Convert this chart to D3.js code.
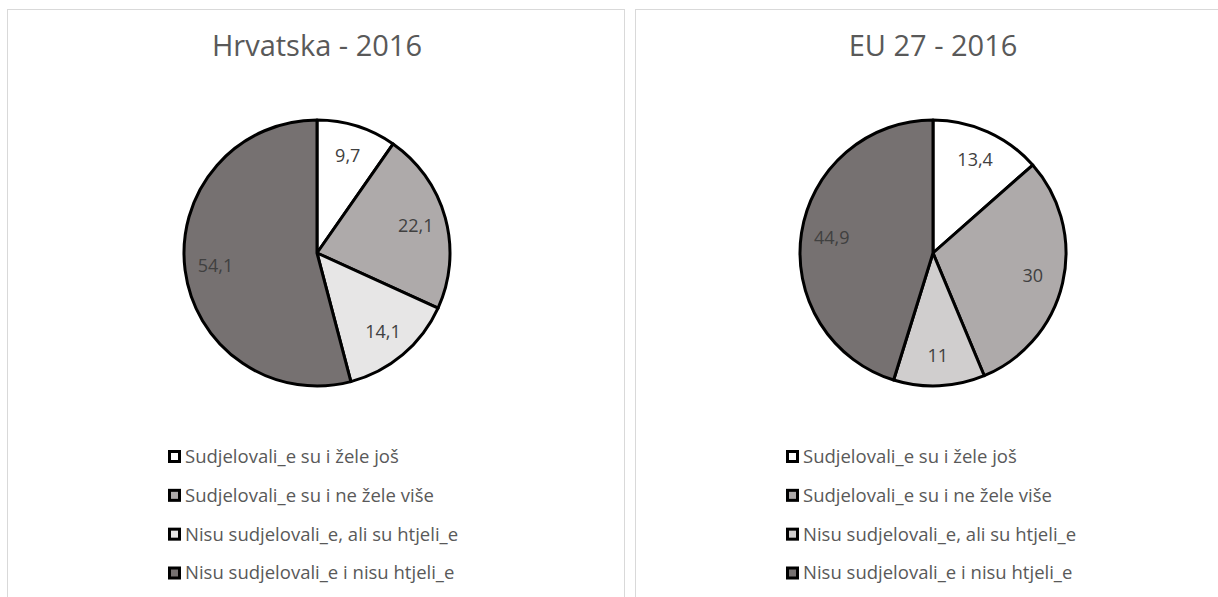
<!DOCTYPE html>
<html>
<head>
<meta charset="utf-8">
<script src="https://cdn.jsdelivr.net/npm/d3@7"></script>
<style>
html,body{margin:0;padding:0;background:#fff;}
svg{display:block;}
text{font-family:"Open Sans",Lato,sans-serif;}
</style>
</head>
<body>
<svg id="chart" width="1218" height="597"></svg>
<script>
const categories = ["Sudjelovali_e su i žele još","Sudjelovali_e su i ne žele više","Nisu sudjelovali_e, ali su htjeli_e","Nisu sudjelovali_e i nisu htjeli_e"];
const titles = ["Hrvatska - 2016","EU 27 - 2016"];
const valuesHR = [9.7, 22.1, 14.1, 54.1];
const valuesEU = [13.4, 30, 11, 44.9];
const labelsHR = ["9,7","22,1","14,1","54,1"];
const labelsEU = ["13,4","30","11","44,9"];
const colorsHR = ["#ffffff","#aeaaaa","#e7e6e6","#767171"];
const colorsEU = ["#ffffff","#aeaaaa","#d0cece","#767171"];

const panels = [
  {title: titles[0], values: valuesHR, labels: labelsHR, colors: colorsHR, x0: 7.5, x1: 624.5, cx: 317, legX: 168},
  {title: titles[1], values: valuesEU, labels: labelsEU, colors: colorsEU, x0: 635.5, x1: 1230, cx: 933, legX: 786}
];

const svg = d3.select("#chart");
const R = 133, cy = 253;

panels.forEach(p => {
  const g = svg.append("g");
  g.append("rect").attr("x", p.x0).attr("y", 9.5).attr("width", p.x1 - p.x0).attr("height", 620)
    .attr("fill", "#fff").attr("stroke", "#d9d9d9").attr("stroke-width", 1);
  g.append("text").attr("x", p.cx).attr("y", 56).attr("text-anchor", "middle")
    .attr("font-size", 29).attr("fill", "#595959").text(p.title);

  const data = p.values.map((v, i) => ({v, i}));
  const pie = d3.pie().sort(null).value(d => d.v);
  const arcs = pie(data);
  const arc = d3.arc().innerRadius(0).outerRadius(R);
  const labelArc = d3.arc().innerRadius(R * 0.77).outerRadius(R * 0.77);
  const pg = g.append("g").attr("transform", `translate(${p.cx},${cy})`);
  pg.selectAll("path").data(arcs).join("path")
    .attr("d", arc).attr("fill", d => p.colors[d.data.i])
    .attr("stroke", "#000").attr("stroke-width", 3).attr("stroke-linejoin", "round");
  pg.selectAll("text").data(arcs).join("text")
    .attr("transform", d => `translate(${labelArc.centroid(d)})`)
    .attr("text-anchor", "middle").attr("dy", "0.35em")
    .attr("font-size", 18).attr("fill", "#404040")
    .text(d => p.labels[d.data.i]);

  const y = d3.scalePoint().domain(categories).range([456.5, 573]);
  const lg = g.append("g");
  const items = lg.selectAll("g").data(categories).join("g")
    .attr("transform", d => `translate(${p.legX},${y(d)})`);
  items.append("rect").attr("x", 1.5).attr("y", -5).attr("width", 10).attr("height", 10)
    .attr("fill", (d, i) => p.colors[i]).attr("stroke", "#000").attr("stroke-width", 3);
  items.append("text").attr("x", 17).attr("dy", "0.35em").attr("font-size", 18.5)
    .attr("fill", "#595959").text(d => d);
});
</script>
</body>
</html>
